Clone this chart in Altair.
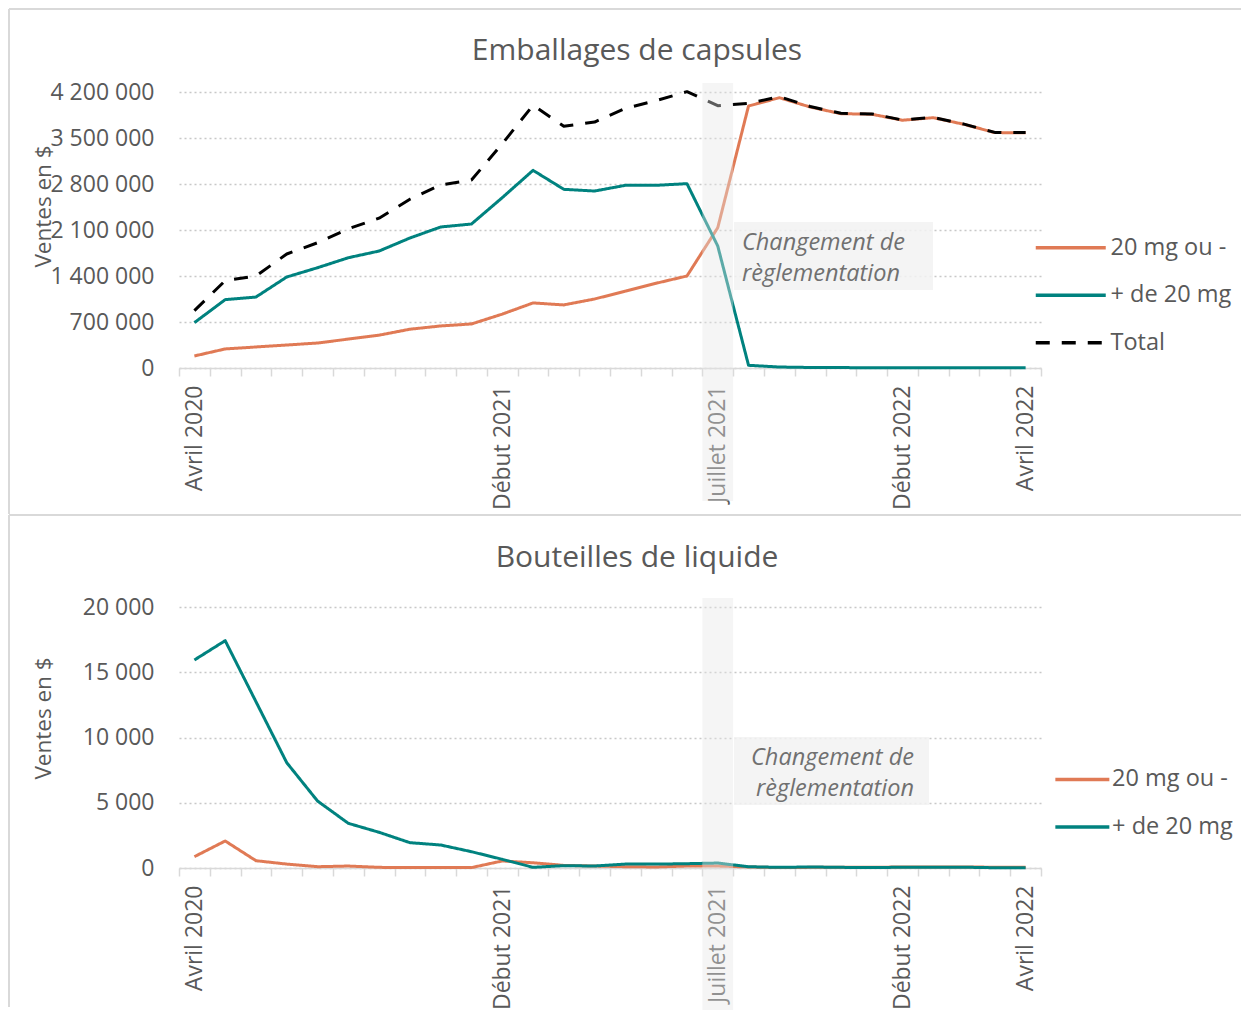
import altair as alt
import pandas as pd

# ---------------- data ----------------
period_index = list(range(28))            # 4-week periods, April 2020 -> April 2022
tick_text = {0: "Avril 2020", 10: "Début 2021", 17: "Juillet 2021",
             23: "Début 2022", 27: "Avril 2022"}
reg_change_period = [17]

series = ["20 mg ou -", "+ de 20 mg", "Total"]

caps_low = [183000, 290000, 320000, 350000, 380000, 440000, 500000, 590000,
            640000, 670000, 820000, 990000, 960000, 1050000, 1170000, 1290000,
            1400000, 2135000, 3987000, 4113000, 3972000, 3870000, 3862000,
            3770000, 3809000, 3708000, 3582000, 3581000]
caps_high = [690000, 1040000, 1080000, 1385000, 1526000, 1678000, 1780000,
             1978000, 2146000, 2191000, 2592000, 3008000, 2719000, 2693000,
             2780000, 2780000, 2805000, 1856000, 41000, 15000, 8000, 6000,
             5000, 4000, 4000, 3000, 3000, 2000]
caps_total = [873000, 1330000, 1400000, 1735000, 1906000, 2118000, 2280000,
              2568000, 2786000, 2861000, 3412000, 3998000, 3679000, 3743000,
              3950000, 4070000, 4205000, 3991000, 4028000, 4128000, 3980000,
              3876000, 3867000, 3774000, 3813000, 3711000, 3585000, 3583000]

liq_low = [868, 2070, 560, 300, 100, 150, 50, 30, 30, 30, 540, 400, 200, 150,
           100, 80, 150, 150, 80, 30, 50, 50, 50, 80, 80, 80, 60, 50]
liq_high = [15940, 17420, 12745, 8070, 5134, 3423, 2736, 1941, 1762, 1250, 665,
            50, 180, 150, 300, 300, 330, 380, 100, 50, 80, 50, 30, 60, 60, 60,
            20, 10]

caps_yticks = [0, 700000, 1400000, 2100000, 2800000, 3500000, 4200000]
liq_yticks = [0, 5000, 10000, 15000, 20000]

chart_titles = ["Emballages de capsules", "Bouteilles de liquide"]
y_title = "Ventes en $"
annotation = ["Changement de", "règlementation"]

# ---------------- style ----------------
colors = ["#E07A55", "#00827F", "#000000"]
dashes = [[1, 0], [1, 0], [14, 12]]
GREY = "#595959"
LIGHT = "#d9d9d9"
FONT = "Open Sans"
W = 862


def long_df(names, lists):
    rows = []
    for name, vals in zip(names, lists):
        for i, v in zip(period_index, vals):
            rows.append({"i": i, "v": v, "s": name})
    return pd.DataFrame(rows)


caps_df = long_df(series, [caps_low, caps_high, caps_total])
liq_df = long_df(series[:2], [liq_low, liq_high])
one_row = pd.DataFrame({"k": [0]})
band_df = pd.DataFrame({"i": reg_change_period})

label_expr = "".join(f"datum.value == {k} ? '{v}' : " for k, v in tick_text.items()) + "''"
space_fmt = "replace(replace(format(datum.value, ','), ',', ' '), ',', ' ')"

x_axis = alt.Axis(title=None, labelExpr=label_expr, labelAngle=-90, labelFontSize=23,
                  labelColor=GREY, labelPadding=9, labelOverlap=False,
                  tickBand="extent", tickColor=LIGHT, tickSize=8, tickWidth=1.5,
                  domainColor=LIGHT, domainWidth=1.5, grid=False, gridOpacity=0)
x_scale = alt.Scale(type="band", paddingInner=0, paddingOuter=0)


def y_axis(vals, ty):
    return alt.Axis(values=vals, labelExpr=space_fmt, labelFontSize=23, labelColor=GREY,
                    labelPadding=25, domain=False, ticks=False, tickSize=0,
                    gridDash=[2, 3], gridColor="#c8c8c8", gridWidth=1.3,
                    title=y_title, titleFontSize=22.5, titleFontWeight="normal",
                    titleColor=GREY, titleX=-136, titleY=ty, titleAngle=270,
                    titleAlign="center", titleBaseline="middle")


def legend(lx, ly, size, offset):
    return alt.Legend(title=None, orient="none", legendX=lx, legendY=ly,
                      symbolType="M-5,0H5", symbolSize=size, symbolStrokeWidth=3.5,
                      labelFontSize=23.5, labelColor=GREY, labelOffset=offset,
                      rowPadding=22.5, padding=0)


def panel(df, names, ymax, yticks, ty, lgd, band_bottom):
    n = len(names)
    lines = alt.Chart(df).mark_line(
        strokeWidth=3, strokeCap="butt", strokeJoin="round").encode(
        x=alt.X("i:O", scale=x_scale, axis=x_axis, bandPosition=0.5),
        y=alt.Y("v:Q", scale=alt.Scale(domain=[0, ymax], nice=False),
                axis=y_axis(yticks, ty)),
        color=alt.Color("s:N", scale=alt.Scale(domain=names, range=colors[:n]),
                        sort=names, legend=lgd),
        strokeDash=alt.StrokeDash("s:N", scale=alt.Scale(domain=names, range=dashes[:n]),
                                  sort=names, legend=lgd),
    )
    band = alt.Chart(band_df).mark_rect(color="#e6e6e6", opacity=0.4).encode(
        x=alt.X("i:O", scale=x_scale, axis=x_axis),
        y=alt.value(-9), y2=alt.value(band_bottom))
    return lines, band


def decorations(title, title_y, text_x, text_align, box_x2, rule_top, rule_bottom):
    box = alt.Chart(one_row).mark_rect(fill="#f2f2f2", opacity=0.85).encode(
        x=alt.value(555), x2=alt.value(box_x2), y=alt.value(130), y2=alt.value(198))
    txt = alt.Chart(one_row).mark_text(
        fontSize=23.5, fontStyle="italic", color="#707070", align=text_align,
        baseline="middle", lineHeight=31).encode(
        x=alt.value(text_x), y=alt.value(151), text=alt.value(annotation))
    ttl = alt.Chart(one_row).mark_text(
        fontSize=30, color=GREY, align="center", baseline="middle").encode(
        x=alt.value(458), y=alt.value(title_y), text=alt.value(title))
    left = alt.Chart(one_row).mark_rule(color=LIGHT, strokeWidth=2).encode(
        x=alt.value(-170), y=alt.value(rule_top), y2=alt.value(rule_bottom))
    topr = alt.Chart(one_row).mark_rule(color=LIGHT, strokeWidth=2).encode(
        x=alt.value(-170), x2=alt.value(1062), y=alt.value(rule_top))
    return [box, txt, ttl, left, topr]


# ----- top panel -----
top_lines, top_band = panel(caps_df, series, 4200000, caps_yticks, 114,
                            legend(880, 144, 196, 28), 409)
top = alt.layer(top_lines, top_band,
                *decorations(chart_titles[0], -41, 563, "left", 754, -83, 422)
                ).properties(width=W, height=276)

# ----- bottom panel -----
bot_lines, bot_band = panel(liq_df, series[:2], 20000, liq_yticks, 111,
                            legend(891.6, 160.7, 116.64, 18), 403)
bottom = alt.layer(bot_lines, bot_band,
                   *decorations(chart_titles[1], -49, 735, "right", 750, -92, 400)
                   ).properties(width=W, height=261)

chart = alt.vconcat(top, bottom, spacing=-1).resolve_scale(
    color="independent", strokeDash="independent"
).resolve_legend(
    color="independent", strokeDash="independent"
).properties(padding=0).configure_view(
    stroke="transparent", strokeWidth=0, strokeOpacity=0
).configure_axisX(
    grid=False, gridOpacity=0
).configure(font=FONT, style={"cell": {"stroke": "transparent", "strokeWidth": 0}})

chart.save("out.html", embed_options={"renderer": "svg", "actions": False})
